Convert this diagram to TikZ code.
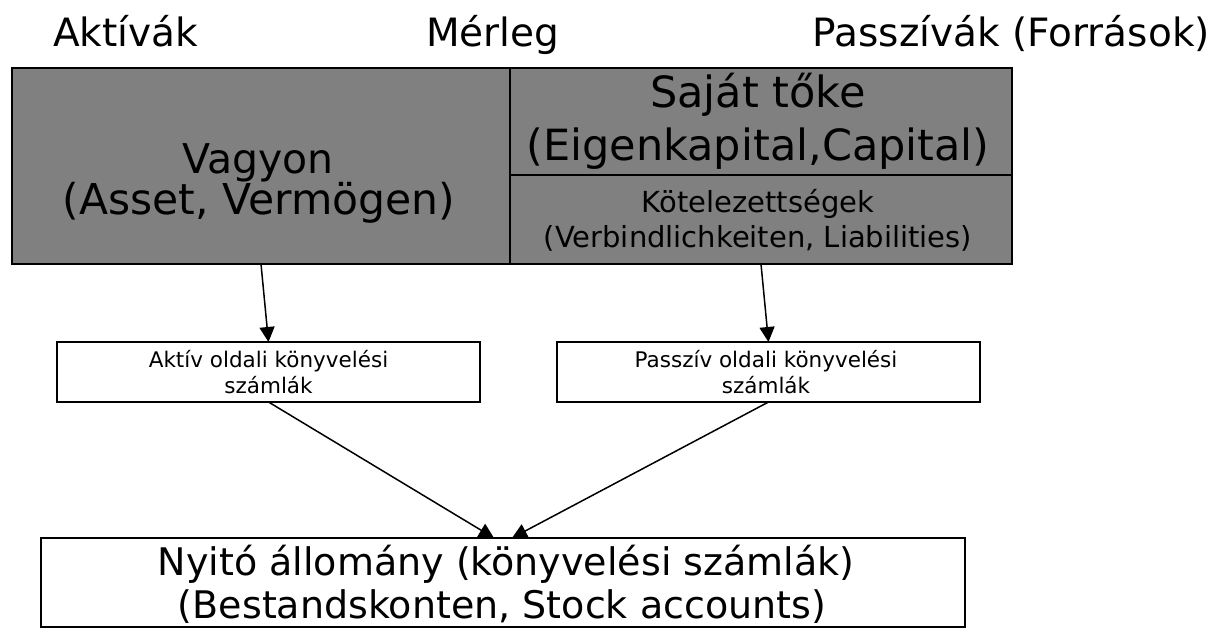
\documentclass[tikz,border=0pt]{standalone}
\usepackage{fontspec}
\setmainfont{DejaVu Sans}
\usetikzlibrary{arrows.meta}
\definecolor{boxgray}{RGB}{128,128,128}
\newcommand\fsz[1]{\fontsize{#1pt}{#1pt}\selectfont}
\begin{document}
\begin{tikzpicture}[x=1pt,y=-1pt,
  panel/.style={draw=black,line width=1.8pt,fill=boxgray,inner sep=0pt,outer sep=0pt},
  acct/.style={draw=black,line width=1.8pt,fill=white,inner sep=0pt,outer sep=0pt},
  txt/.style={anchor=base,inner sep=0pt,text=black},
  flow/.style={line width=1.5pt,-{Triangle[length=15pt,width=15pt]}}]
\useasboundingbox (0,0) rectangle (1215,629);

% headings
\node[txt,anchor=base west] (hA) at (53,46) {\fsz{39}Aktívák};
\node[txt,anchor=base west] (hM) at (426,46) {\fsz{39}Mérleg};
\node[txt,anchor=base east] (hP) at (1210,46) {\fsz{39}Passzívák (Források)};

% balance sheet panels
\node[panel,minimum width=498pt,minimum height=196pt] (asset) at (261,166) {};
\node[panel,minimum width=502pt,minimum height=107pt] (equity) at (761,121.5) {};
\node[panel,minimum width=502pt,minimum height=89pt] (liab) at (761,219.5) {};

% panel texts
\node[txt] (vag1) at (258,173) {\fsz{41}Vagyon};
\node[txt] (vag2) at (259,214) {\fsz{42.5}(Asset, Vermögen)};
\node[txt] (eq1) at (758,107) {\fsz{43}Saját tőke};
\node[txt] (eq2) at (758,160) {\fsz{43}(Eigenkapital,Capital)};
\node[txt] (li1) at (758,212) {\fsz{29}Kötelezettségek};
\node[txt] (li2) at (758,247) {\fsz{29}(Verbindlichkeiten, Liabilities)};

% account groups
\node[acct,minimum width=423pt,minimum height=60pt] (aktiv) at (268.5,372) {};
\node[acct,minimum width=423pt,minimum height=60pt] (passziv) at (768.5,372) {};
\node[txt] (ak1) at (268.5,367) {\fsz{21.5}Aktív oldali könyvelési};
\node[txt] (ak2) at (268.5,393) {\fsz{21.5}számlák};
\node[txt] (pa1) at (766,367) {\fsz{21.5}Passzív oldali könyvelési};
\node[txt] (pa2) at (766,393) {\fsz{21.5}számlák};

% opening balance
\node[acct,minimum width=924pt,minimum height=89pt] (nyito) at (503,582.5) {};
\node[txt] (ny1) at (506,575) {\fsz{38}Nyitó állomány (könyvelési számlák)};
\node[txt] (ny2) at (502,618) {\fsz{38}(Bestandskonten, Stock accounts)};

% connectors
\draw[flow] (asset.south) -- (aktiv.north);
\draw[flow] (liab.south) -- (passziv.north);
\draw[flow] (aktiv.south) -- ([xshift=-9pt]nyito.north);
\draw[flow] (passziv.south) -- ([xshift=9pt]nyito.north);
\end{tikzpicture}
\end{document}
